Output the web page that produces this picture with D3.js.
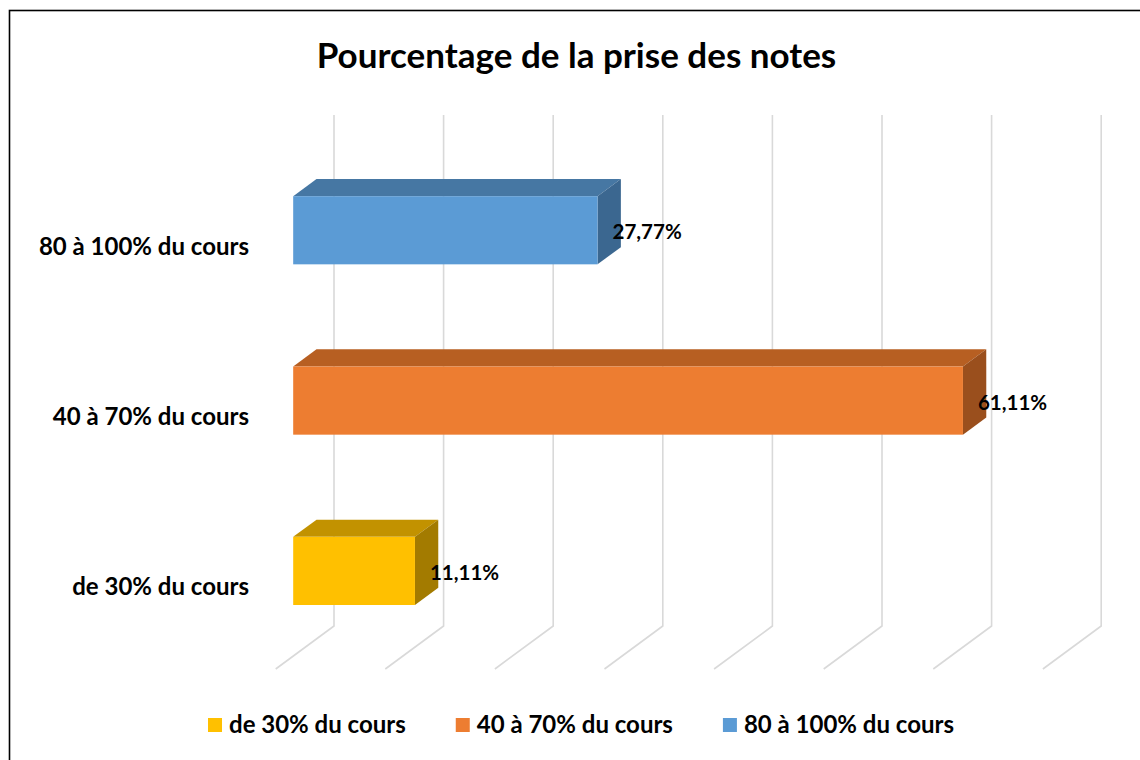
<!DOCTYPE html>
<html>
<head>
<meta charset="utf-8">
<script src="https://cdn.jsdelivr.net/npm/d3@7"></script>
<style>
  body { margin: 0; background: #fff; }
  text { font-family: Lato, "Open Sans", sans-serif; font-weight: bold; fill: #000; }
</style>
</head>
<body>
<div id="chart"></div>
<script>
var width = 1140,
    height = 760;

// Data
var categories = ['de 30% du cours', '40 à 70% du cours', '80 à 100% du cours'],
    values = [11.11, 61.11, 27.77],
    valueLabels = ['11,11%', '61,11%', '27,77%'],
    gridTicks = [0, 10, 20, 30, 40, 50, 60, 70],
    title = 'Pourcentage de la prise des notes';

var faceColors = ['#FFC000', '#ED7D31', '#5B9BD5'],
    topColors = ['#C29200', '#B75F22', '#4677A3'],
    sideColors = ['#A37B00', '#9A4F1D', '#3B6790'];

// 3D floor: front plane and depth vector
var plot = {left: 275.7, top: 158, bottom: 669},
    depth = {dx: 58.3, dy: -43},
    barFront = 0.3, barBack = 0.7;

var svg = d3.select('#chart')
    .append('svg')
    .attr('width', width)
    .attr('height', height);

// outer frame
svg.append('rect')
    .attr('x', 9.5)
    .attr('y', 10.5)
    .attr('width', width + 20)
    .attr('height', height + 20)
    .attr('fill', 'none')
    .attr('stroke', '#000')
    .attr('stroke-width', 1.6);

// Scales (front plane)
var x = d3.scaleLinear().domain([0, 70]).range([plot.left, plot.left + 767.2]);
var y = d3.scaleBand()
    .domain(categories.slice().reverse())
    .range([plot.top, plot.bottom])
    .paddingInner(0.6)
    .paddingOuter(0.3);

// Gridlines: back wall verticals + floor diagonals
var grid = svg.append('g').attr('class', 'grid')
    .attr('stroke', '#D9D9D9')
    .attr('stroke-width', 1.6)
    .attr('fill', 'none');

grid.selectAll('path')
    .data(gridTicks)
    .enter()
    .append('path')
    .attr('d', function(d) {
        var bx = x(d) + depth.dx,
            topY = plot.top + depth.dy,
            botY = plot.bottom + depth.dy;
        return 'M' + bx + ',' + topY + 'L' + bx + ',' + botY + 'L' + x(d) + ',' + plot.bottom;
    });

// Bars
var bars = svg.append('g').attr('class', 'bars')
    .selectAll('g')
    .data(categories.map(function(c, i) {
        return {name: c, value: values[i], label: valueLabels[i], i: i};
    }))
    .enter()
    .append('g');

var fx = depth.dx * barFront, fy = depth.dy * barFront,
    bdx = depth.dx * (barBack - barFront), bdy = depth.dy * (barBack - barFront);

function face(d) {
    return {
        x0: x(0) + fx,
        x1: x(d.value) + fx,
        y0: y(d.name) + fy,
        y1: y(d.name) + fy + y.bandwidth()
    };
}

// top face
bars.append('path')
    .attr('fill', function(d) { return topColors[d.i]; })
    .attr('d', function(d) {
        var f = face(d);
        return 'M' + f.x0 + ',' + f.y0 + 'L' + (f.x0 + bdx) + ',' + (f.y0 + bdy) +
            'L' + (f.x1 + bdx) + ',' + (f.y0 + bdy) + 'L' + f.x1 + ',' + f.y0 + 'Z';
    });

// side face
bars.append('path')
    .attr('fill', function(d) { return sideColors[d.i]; })
    .attr('d', function(d) {
        var f = face(d);
        return 'M' + f.x1 + ',' + f.y0 + 'L' + (f.x1 + bdx) + ',' + (f.y0 + bdy) +
            'L' + (f.x1 + bdx) + ',' + (f.y1 + bdy) + 'L' + f.x1 + ',' + f.y1 + 'Z';
    });

// front face
bars.append('rect')
    .attr('fill', function(d) { return faceColors[d.i]; })
    .attr('x', function(d) { return face(d).x0; })
    .attr('y', function(d) { return face(d).y0; })
    .attr('width', function(d) { return face(d).x1 - face(d).x0; })
    .attr('height', y.bandwidth());

// value labels
bars.append('text')
    .attr('x', function(d) { return face(d).x1 + 15; })
    .attr('y', function(d) { return face(d).y0 + y.bandwidth() / 2 + 2; })
    .attr('dy', '0.35em')
    .style('font-size', '20.5px')
    .text(function(d) { return d.label; });

// Category labels
svg.append('g').attr('class', 'axis')
    .selectAll('text')
    .data(categories)
    .enter()
    .append('text')
    .attr('x', 249)
    .attr('y', function(d) { return y(d) + y.bandwidth() / 2 + 3; })
    .attr('dy', '0.35em')
    .attr('text-anchor', 'end')
    .style('font-size', '24px')
    .text(function(d) { return d; });

// Title
svg.append('text')
    .attr('x', 576.5)
    .attr('y', 68)
    .attr('text-anchor', 'middle')
    .style('font-size', '35px')
    .text(title);

// Legend
var legend = svg.append('g').attr('class', 'legend');
var items = legend.selectAll('g')
    .data(categories)
    .enter()
    .append('g');

items.append('rect')
    .attr('width', 14)
    .attr('height', 14)
    .attr('y', -7)
    .attr('fill', function(d, i) { return faceColors[i]; });

items.append('text')
    .attr('x', 21)
    .attr('dy', '0.35em')
    .style('font-size', '24px')
    .text(function(d) { return d; });

var gap = 50, offs = [], total = 0;
items.each(function() {
    var w = 21 + d3.select(this).select('text').node().getComputedTextLength();
    offs.push(total);
    total += w + gap;
});
total -= gap;
items.attr('transform', function(d, i) {
    return 'translate(' + (581 - total / 2 + offs[i]) + ',725)';
});
</script>
</body>
</html>
